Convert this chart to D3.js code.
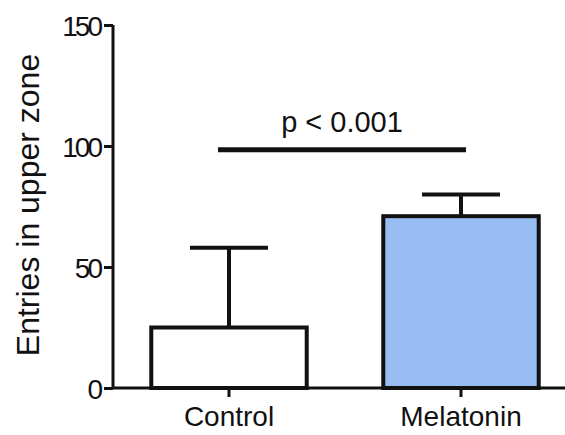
<!DOCTYPE html>
<html>
<head>
<meta charset="utf-8">
<script src="https://cdn.jsdelivr.net/npm/d3@7"></script>
<style>
  body { margin: 0; background: #fff; }
  text { font-family: "Liberation Sans", Arial, sans-serif; fill: #111; }
</style>
</head>
<body>
<svg id="chart"></svg>
<script>
const groups = ['Control', 'Melatonin'];
const means = [25, 71];
const errUpper = [58, 80];
const fills = ['#ffffff', '#98bdf2'];
const yTicks = [0, 50, 100, 150];
const sigLabel = 'p < 0.001';
const sigLevel = 98.5;

const svg = d3.select('#chart').attr('width', 565).attr('height', 435);

const x = d3.scaleBand()
  .domain(groups)
  .range([113, 577])
  .paddingInner(0.33)
  .paddingOuter(0.165);

const y = d3.scaleLinear()
  .domain([0, 150])
  .range([388, 25]);

// bars
svg.selectAll('rect.bar')
  .data(groups)
  .enter()
  .append('rect')
  .attr('class', 'bar')
  .attr('x', d => x(d))
  .attr('y', (d, i) => y(means[i]))
  .attr('width', x.bandwidth())
  .attr('height', (d, i) => y(0) - y(means[i]))
  .attr('fill', (d, i) => fills[i])
  .attr('stroke', '#111')
  .attr('stroke-width', 4);

// error bars (upper only)
const capW = 78;
groups.forEach((g, i) => {
  const cx = x(g) + x.bandwidth() / 2;
  svg.append('line')
    .attr('x1', cx).attr('x2', cx)
    .attr('y1', y(means[i])).attr('y2', y(errUpper[i]))
    .attr('stroke', '#111').attr('stroke-width', 4);
  svg.append('line')
    .attr('x1', cx - capW / 2).attr('x2', cx + capW / 2)
    .attr('y1', y(errUpper[i])).attr('y2', y(errUpper[i]))
    .attr('stroke', '#111').attr('stroke-width', 4);
});

// axes
const yAxis = svg.append('g')
  .attr('transform', 'translate(113,0)')
  .call(d3.axisLeft(y).tickValues(yTicks).tickSize(9).tickSizeOuter(0).tickPadding(4));
yAxis.selectAll('text')
  .attr('font-size', 28)
  .attr('letter-spacing', -3)
  .attr('dy', '0.36em');

const xAxis = svg.append('g')
  .attr('transform', `translate(0,${y(0)})`)
  .call(d3.axisBottom(x).tickSize(9).tickSizeOuter(0).tickPadding(9));
xAxis.selectAll('text').attr('font-size', 28);

svg.selectAll('.domain').attr('stroke', '#111').attr('stroke-width', 3);
svg.selectAll('.tick line').attr('stroke', '#111').attr('stroke-width', 3);
yAxis.select('.domain').attr('d', `M0,${y(150)}V${y(0)}`);
xAxis.select('.domain').attr('d', `M113,0H565`);

// significance bar
const sx1 = x(groups[0]) + x.bandwidth() / 2 - 11;
const sx2 = x(groups[1]) + x.bandwidth() / 2 + 5;
svg.append('line')
  .attr('x1', sx1).attr('x2', sx2)
  .attr('y1', y(sigLevel)).attr('y2', y(sigLevel))
  .attr('stroke', '#111').attr('stroke-width', 5);
svg.append('text')
  .attr('x', (sx1 + sx2) / 2)
  .attr('y', y(sigLevel) - 18)
  .attr('text-anchor', 'middle')
  .attr('font-size', 29)
  .text(sigLabel);

// y label
svg.append('text')
  .attr('transform', `translate(39,205) rotate(-90)`)
  .attr('text-anchor', 'middle')
  .attr('font-size', 32)
  .text('Entries in upper zone');
</script>
</body>
</html>
